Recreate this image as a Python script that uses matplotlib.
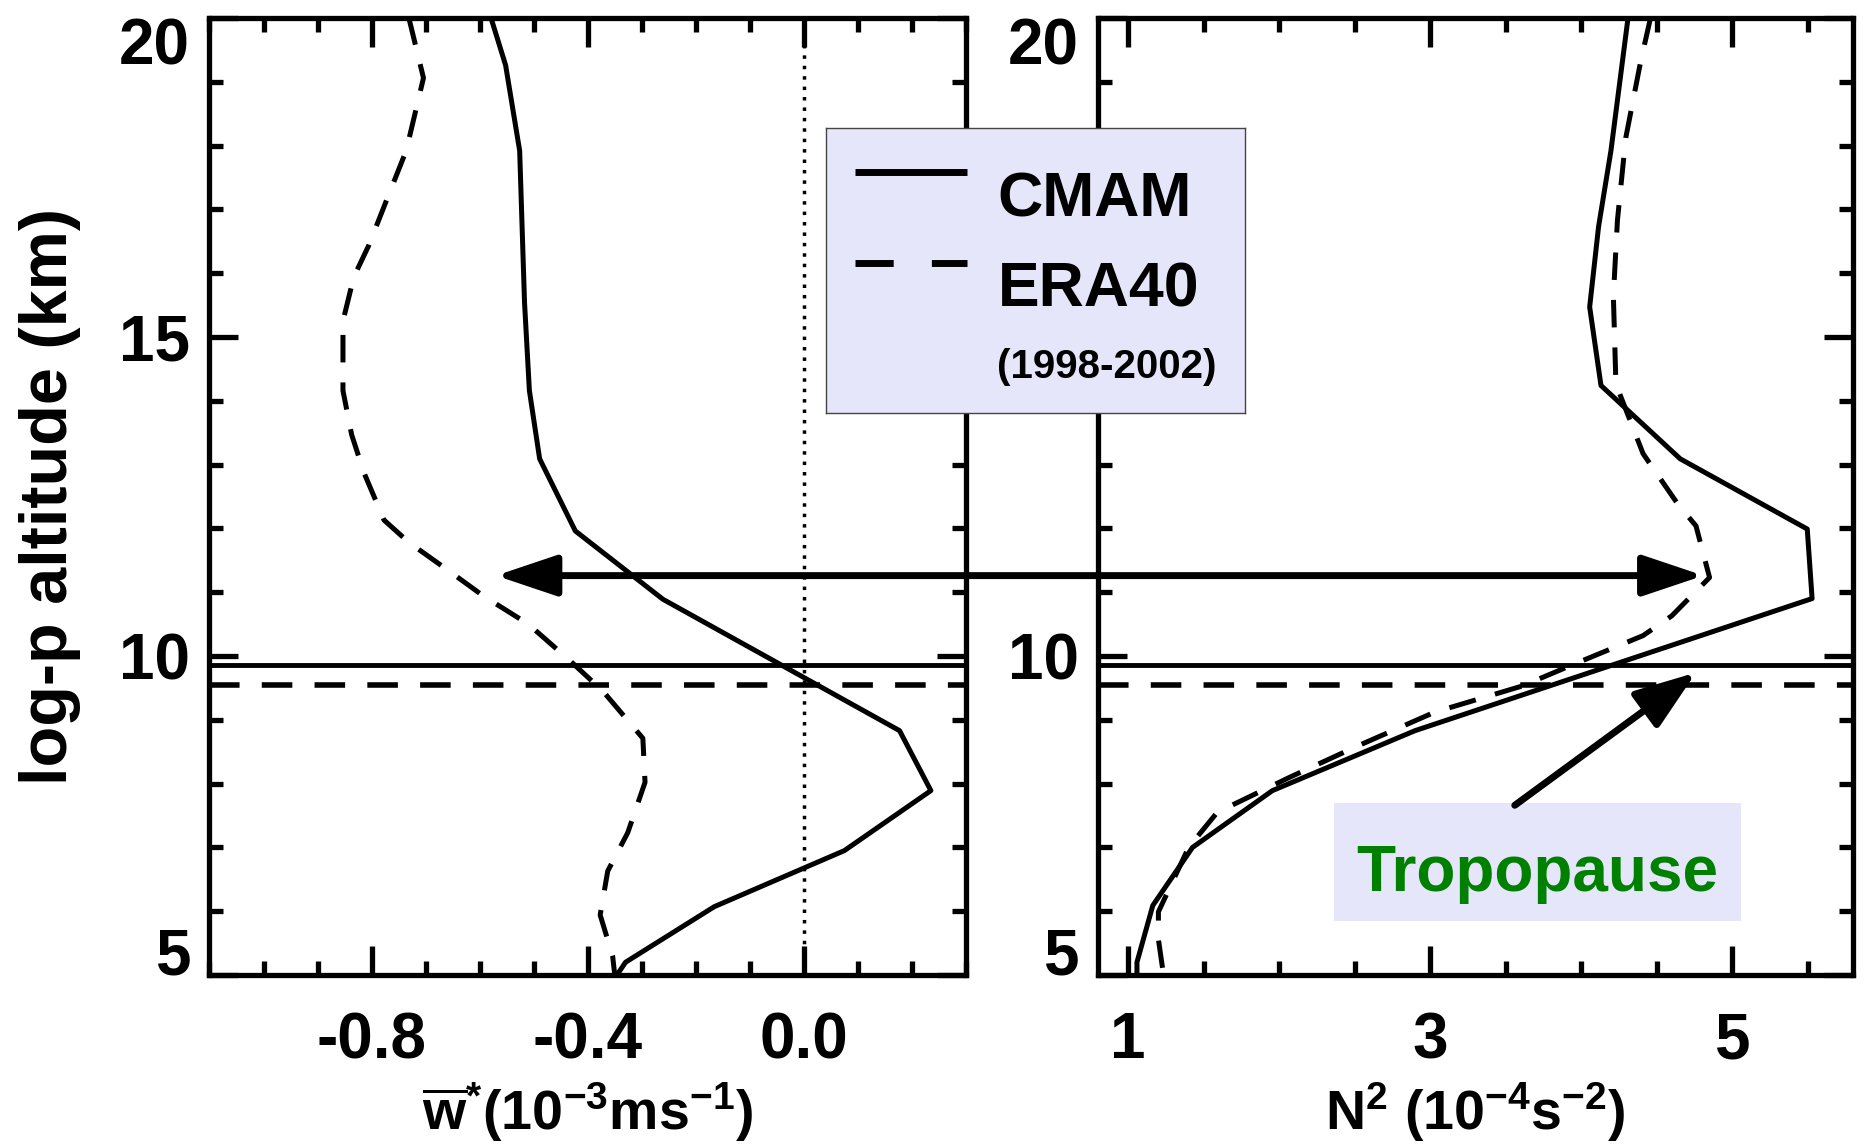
import matplotlib
matplotlib.use('Agg')
import matplotlib.pyplot as plt
from matplotlib.ticker import MultipleLocator
from matplotlib.patches import Rectangle

plt.rcParams['font.family'] = ['Liberation Sans', 'DejaVu Sans']
plt.rcParams['font.weight'] = 'bold'
plt.rcParams['mathtext.fontset'] = 'custom'
plt.rcParams['mathtext.rm'] = 'Liberation Sans:bold'
plt.rcParams['mathtext.it'] = 'Liberation Sans:bold'
plt.rcParams['mathtext.bf'] = 'Liberation Sans:bold'
plt.rcParams['mathtext.sf'] = 'Liberation Sans:bold'

# residual vertical velocity w* (10^-3 m/s) vs log-p altitude (km)
z_w_cmam = [20.0, 19.26, 17.92, 15.54, 14.16, 13.09, 11.96, 10.89, 8.83, 7.89, 6.95, 6.07, 5.2, 5.0]
w_cmam = [-0.579, -0.552, -0.526, -0.517, -0.508, -0.489, -0.423, -0.261, 0.177, 0.235, 0.075, -0.166, -0.330, -0.346]

z_w_era = [20.0, 19.06, 17.92, 17.13, 16.44, 15.94, 15.25, 14.16, 13.47, 12.87, 12.13, 11.78,
           11.34, 10.94, 10.5, 9.95, 9.45, 8.71, 8.02, 7.23, 6.63, 5.94, 5.30, 5.0]
w_era = [-0.731, -0.704, -0.736, -0.773, -0.805, -0.833, -0.853, -0.853, -0.837, -0.814, -0.777, -0.731,
         -0.658, -0.593, -0.510, -0.436, -0.372, -0.298, -0.294, -0.326, -0.363, -0.377, -0.354, -0.350]

# static stability N^2 (10^-4 s^-2)
z_n_cmam = [20.0, 17.92, 16.73, 15.47, 14.24, 13.09, 11.99, 10.90, 8.83, 7.89, 7.00, 6.09, 5.20, 5.0]
n_cmam = [4.31, 4.197, 4.115, 4.056, 4.131, 4.656, 5.497, 5.529, 2.90, 1.955, 1.426, 1.163, 1.058, 1.058]

z_n_era = [20.0, 19.31, 18.12, 16.83, 15.64, 14.26, 13.17, 12.38, 12.04, 11.23, 10.63, 10.32,
           9.85, 9.53, 9.12, 8.59, 8.10, 7.55, 7.0, 5.99, 5.56, 5.0]
n_era = [4.459, 4.393, 4.295, 4.24, 4.213, 4.23, 4.41, 4.64, 4.76, 4.85, 4.60, 4.41,
         3.93, 3.61, 3.03, 2.52, 2.07, 1.59, 1.40, 1.20, 1.20, 1.234]

# tropopause heights (km)
trop_cmam = 9.86
trop_era = 9.55

arrow_z = 11.26
arrow_w = -0.57
arrow_n = 4.81

LAV = '#e6e6fa'

fig = plt.figure(figsize=(18.65, 11.44), dpi=100)
ax1 = fig.add_axes([0.11233, 0.14773, 0.40563, 0.83654])
ax2 = fig.add_axes([0.58874, 0.14773, 0.40483, 0.83654])

dash = (5.5, 4.0)


def style_axis(ax, xlim, xmin, xticks, xlabels, ylabels):
    ax.set_xlim(*xlim)
    ax.set_ylim(5, 20)
    ax.set_xticks(xticks, labels=xlabels)
    ax.xaxis.set_minor_locator(MultipleLocator(xmin))
    ax.set_yticks([5, 10, 15, 20], labels=ylabels)
    ax.yaxis.set_minor_locator(MultipleLocator(1))
    ax.tick_params(which='both', direction='in', top=True, right=True, width=3.8, labelsize=46)
    ax.tick_params(which='major', length=21)
    ax.tick_params(which='minor', length=10)
    ax.tick_params(axis='x', pad=26)
    ax.tick_params(axis='y', pad=14)
    for s in ax.spines.values():
        s.set_linewidth(3.8)
    labs = ax.get_yticklabels()
    labs[0].set_va('baseline')
    labs[-1].set_va('top')
    # tropopause lines
    ax.axhline(trop_cmam, color='k', lw=3.5)
    ax.axhline(trop_era, color='k', lw=4, dashes=dash)


style_axis(ax1, (-1.1, 0.3), 0.1, [-0.8, -0.4, 0.0], ['-0.8', '-0.4', '0.0'], ['5', '10', '15', '20'])
# the 15 label of the right panel sits under the legend box
style_axis(ax2, (0.8, 5.8), 0.5, [1, 3, 5], ['1', '3', '5'], ['5', '10', '', '20'])

ax1.axvline(0.0, color='k', lw=2.5, linestyle=(0, (1, 2)))
ax1.plot(w_cmam, z_w_cmam, color='k', lw=3.6)
ax1.plot(w_era, z_w_era, color='k', lw=3.6, dashes=dash)
ax2.plot(n_cmam, z_n_cmam, color='k', lw=3.6)
ax2.plot(n_era, z_n_era, color='k', lw=3.6, dashes=dash)

ax1.set_xlabel(r'$\overline{w}^{*}$(10$^{-3}$ms$^{-1}$)', fontsize=40, fontweight='bold', va='baseline')
ax1.xaxis.set_label_coords(0.5, -0.162)
ax2.set_xlabel(r'N$^{2}$ (10$^{-4}$s$^{-2}$)', fontsize=40, fontweight='bold', va='baseline')
ax2.xaxis.set_label_coords(0.5, -0.162)
ax1.set_ylabel('log-p altitude (km)', fontsize=48, fontweight='bold')
ax1.yaxis.set_label_coords(-0.17, 0.5)

# arrow linking the two panels
ax2.annotate('', xy=(arrow_n, arrow_z), xycoords='data',
             xytext=(arrow_w, arrow_z), textcoords=ax1.transData,
             arrowprops=dict(arrowstyle='<|-|>,head_length=1.25,head_width=0.42', lw=5, color='k',
                             shrinkA=0, shrinkB=0, mutation_scale=30),
             annotation_clip=False)

# tropopause label
ax2.add_patch(Rectangle((2.36, 5.84), 2.70, 1.86, facecolor=LAV, edgecolor='none', zorder=1))
ax2.text(3.71, 6.32, 'Tropopause', color='#008000', fontsize=46, fontweight='bold',
         ha='center', va='baseline', zorder=3)
ax2.annotate('', xy=(4.76, 9.74), xytext=(3.56, 7.66),
             arrowprops=dict(arrowstyle='-|>,head_length=1.25,head_width=0.45', lw=5, color='k',
                             shrinkA=0, shrinkB=0, mutation_scale=30))

# legend box
lg = fig.add_axes([826 / 1865, 1 - 413 / 1144, 419 / 1865, 285 / 1144])
lg.set_facecolor(LAV)
lg.set_xlim(0, 1)
lg.set_ylim(0, 1)
lg.set_xticks([])
lg.set_yticks([])
for s in lg.spines.values():
    s.set_linewidth(1)
    s.set_edgecolor('#444444')
lg.plot([0.069, 0.337], [0.846, 0.846], color='k', lw=5, solid_capstyle='butt')
lg.plot([0.069, 0.337], [0.526, 0.526], color='k', lw=5, dashes=(5.5, 5.5), dash_capstyle='butt')
lg.text(0.41, 0.689, 'CMAM', fontsize=45, fontweight='bold', va='baseline')
lg.text(0.41, 0.373, 'ERA40', fontsize=45, fontweight='bold', va='baseline')
lg.text(0.408, 0.122, '(1998-2002)', fontsize=29, fontweight='bold', va='baseline')

fig.savefig('out.png', dpi=100)
